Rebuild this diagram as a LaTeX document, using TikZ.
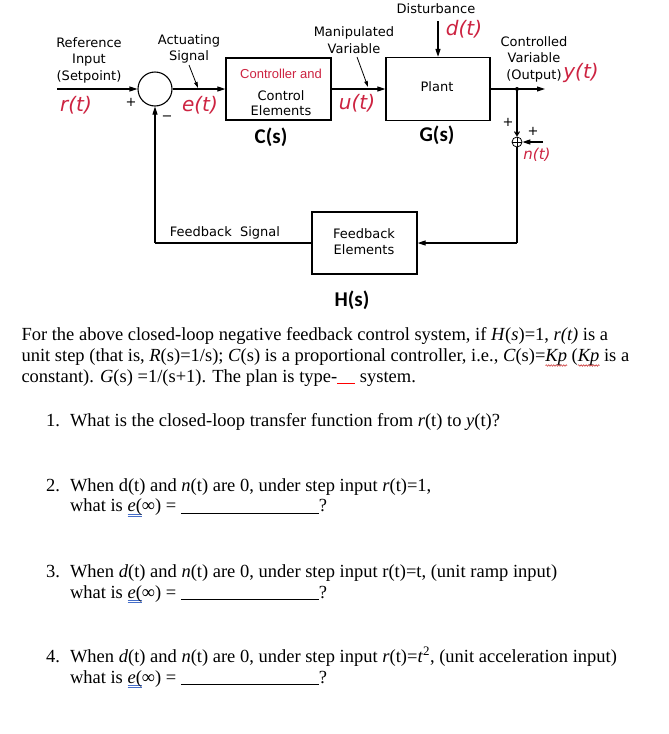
\documentclass[tikz,border=0pt]{standalone}
\usepackage{fontspec}
\setmainfont{Liberation Serif}
\newfontfamily\dvs{DejaVu Sans}
\newfontfamily\lsans{Liberation Sans}
\newfontfamily\carl{Carlito}
\usetikzlibrary{arrows.meta,decorations.pathmorphing}
\definecolor{lblred}{RGB}{205,35,65}
\definecolor{ulblue}{RGB}{70,110,200}
\definecolor{wavred}{RGB}{200,40,40}
\newcommand\eul[1]{\setbox0=\hbox{#1}\rlap{\textcolor{ulblue}{\rule[-2.6pt]{\wd0}{0.5pt}}}\rlap{\textcolor{ulblue}{\rule[-4.4pt]{\wd0}{0.5pt}}}\box0}
\newcommand\blank{\rule[-1.5pt]{138pt}{0.6pt}}
\begin{document}
\begin{tikzpicture}[x=1pt,y=-1pt,
  lbl/.style={font={\dvs\fontsize{13}{16.5}\selectfont}, inner sep=0, align=center},
  sig/.style={font={\dvs\itshape\fontsize{20}{20}\selectfont}, text=lblred, inner sep=0},
  tf/.style={font={\carl\bfseries\fontsize{21}{21}\selectfont}, inner sep=0},
  blk/.style={draw, line width=1.3pt, inner sep=0},
  wire/.style={line width=1.1pt},
  arr/.style={wire, -{Triangle[length=8pt,width=5pt]}},
  ptr/.style={line width=0.8pt, -{Triangle[length=6pt,width=3.5pt]}},
  txt/.style={font={\fontsize{18.5}{21}\selectfont}, inner sep=0, outer sep=0, anchor=base west},
  wavy/.style={draw=wavred, line width=0.5pt, decorate, decoration={snake, amplitude=0.8pt, segment length=2.5pt}}
]
\useasboundingbox[fill=white] (0,0) rectangle (669,734);

% blocks
\node[blk, minimum width=105pt, minimum height=62pt] (ctrl) at (278.5,89) {};
\node[blk, minimum width=104pt, minimum height=63pt] (plant) at (438,89) {};
\node[blk, minimum width=105pt, minimum height=62pt] (fb) at (364.5,243) {};
\node[circle, draw, line width=1.1pt, minimum size=34pt, inner sep=0] (sum) at (155,89) {};
\node[circle, draw, line width=0.8pt, minimum size=10pt, inner sep=0] (nsum) at (517,142) {};
\draw[line width=0.6pt] (nsum.west) -- (nsum.east);
\draw[line width=0.6pt] (nsum.north) -- (nsum.south);

% coordinates
\coordinate (rin) at (57,89);
\coordinate (yout) at (545,89);
\coordinate (br) at (517,89);
\coordinate (fbr) at (517,243);
\coordinate (fbl) at (155,243);
\coordinate (nin) at (543,142);
\coordinate (dtop) at (438,21);
\coordinate (ap1) at (189,65);
\coordinate (ap2) at (198,88);
\coordinate (mp1) at (357,57);
\coordinate (mp2) at (368,87);

% connectors
\draw[arr] (rin) -- (sum);
\draw[arr] (sum) -- (ctrl);
\draw[arr] (ctrl) -- (plant);
\draw[arr] (plant.east) -- (yout);
\fill (br) circle (2pt);
\draw[wire, -{Straight Barb[length=4pt,width=5pt]}] (br) -- (nsum.north);
\draw[wire] (nsum.south) -- (fbr);
\draw[arr] (fbr) -- (fb.east);
\draw[wire] (fb.west) -- (fbl);
\draw[arr] (fbl) -- (sum.south);
\draw[arr] (nin) -- (nsum.east);
\draw[arr] (dtop) -- (plant.north);
\draw[ptr] (ap1) -- (ap2);
\draw[ptr] (mp1) -- (mp2);

% labels
\node[lbl] (reflbl) at (89,60) {Reference\\Input\\(Setpoint)};
\node[lbl] (actlbl) at (189,49) {Actuating\\Signal};
\node[lbl] (manlbl) at (354,40) {Manipulated\\Variable};
\node[lbl] (dislbl) at (436,9) {Disturbance};
\node[lbl] (cvlbl) at (534,59) {Controlled\\Variable\\(Output)};
\node[lbl] (ctrlred) at (281,74) {\lsans\textcolor{lblred}{Controller and}};
\node[lbl, font={\dvs\fontsize{13}{15}\selectfont}] (ctrltxt) at (281,103.5) {Control\\Elements};
\node[lbl] (plantlbl) at (437,87) {Plant};
\node[lbl] (fblbl) at (364,241.5) {Feedback\\Elements};
\node[lbl] (fbsig) at (225,233) {Feedback\ \ Signal};
\node[lbl] (plus1) at (131,102) {+};
\node[lbl] (minus1) at (167,118) {−};
\node[lbl] (plus2) at (508,122) {+};
\node[lbl] (plus3) at (533,131) {+};

% signals
\node[sig] (rt) at (76,105) {r(t)};
\node[sig] (et) at (200,105) {e(t)};
\node[sig] (ut) at (357,103) {u(t)};
\node[sig] (dt) at (464,29) {d(t)};
\node[sig] (yt) at (581,73) {y(t)};
\node[sig, font={\dvs\itshape\fontsize{15}{15}\selectfont}] (nt) at (537,155) {n(t)};

% transfer functions
\node[tf] (cs) at (271,137) {C(s)};
\node[tf] (gs) at (437,135) {G(s)};
\node[tf] (hs) at (352,300) {H(s)};

% paragraph
\node[txt] (l1) at (21.5,340) {For the above closed-loop negative feedback control system, if \textit{H}(\textit{s})=1, \textit{r(t)} is a};
\node[txt] (l2a) at (21.5,361.5) {unit step (that is, \textit{R}(s)=1/s); \textit{C}(s) is a proportional controller, i.e., \textit{C}(s)=};
\node[txt] (kp1) at (l2a.base east) {\textit{Kp}};
\node[txt] (l2b) at (kp1.base east) {\ (};
\node[txt] (kp2) at (l2b.base east) {\textit{Kp}};
\node[txt] (l2c) at (kp2.base east) {\ is a};
\draw[wavy] ([yshift=-4pt]kp1.base west) -- ([yshift=-4pt]kp1.base east);
\draw[wavy] ([yshift=-4pt]kp2.base west) -- ([yshift=-4pt]kp2.base east);
\node[txt] (l3) at (21.5,382) {constant). \textit{G}(s) =1/(s+1). The plan is type-\textcolor{red}{\rule[-1.5pt]{18pt}{0.9pt}}\ system.};

% questions
\node[txt] (n1) at (46,426) {1.};
\node[txt] (q1) at (70,426) {What is the closed-loop transfer function from \textit{r}(t) to \textit{y}(t)?};
\node[txt] (n2) at (46,491.7) {2.};
\node[txt] (q2a) at (70,491.7) {When d(t) and \textit{n}(t) are 0, under step input \textit{r}(t)=1,};
\node[txt] (q2b) at (70,511.7) {what is \eul{\textit{e}(}∞) = \blank?};
\node[txt] (n3) at (46,577) {3.};
\node[txt] (q3a) at (70,577) {When \textit{d}(t) and \textit{n}(t) are 0, under step input r(t)=t, (unit ramp input)};
\node[txt] (q3b) at (70,598) {what is \eul{\textit{e}(}∞) = \blank?};
\node[txt] (n4) at (46,662) {4.};
\node[txt] (q4a) at (70,662) {When \textit{d}(t) and \textit{n}(t) are 0, under step input \textit{r}(t)=\textit{t}\textsuperscript{2}, (unit acceleration input)};
\node[txt] (q4b) at (70,683) {what is \eul{\textit{e}(}∞) = \blank?};
\end{tikzpicture}
\end{document}
